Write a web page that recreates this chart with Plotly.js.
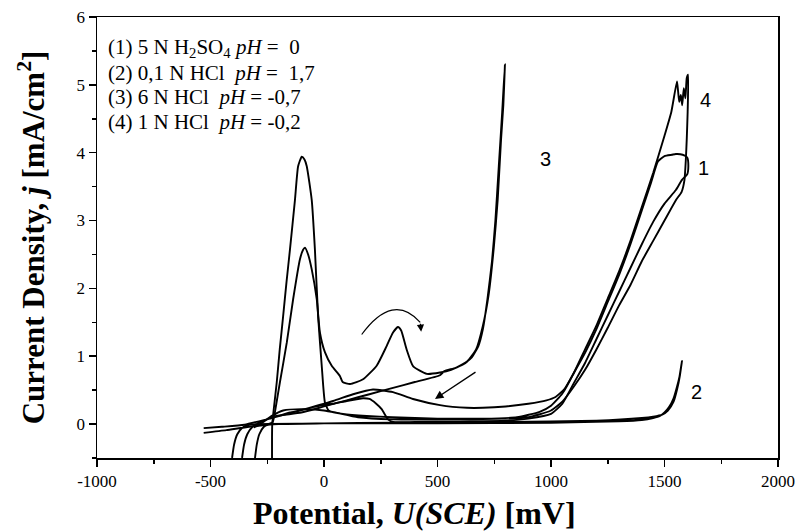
<!DOCTYPE html>
<html>
<head>
<meta charset="utf-8">
<script src="https://cdn.plot.ly/plotly-3.0.1.min.js"></script>
<style>
html,body{margin:0;padding:0;background:#fff;}
#chart{width:801px;height:532px;}
</style>
</head>
<body>
<div id="chart"></div>
<script>
// Potential (mV) and current density (mA/cm2)
// (1) 5 N H2SO4
const curve1X = [-361,-352,-338,-315,-285,-252,-200,-150,-106,-50,0,40,100,150,172,200,230,254,282,304,400,600,800,900,1000,1050,1100,1150,1200,1250,1300,1350,1400,1450,1500,1550,1577,1600,1605,1600,1580,1550,1533,1500,1471,1440,1400,1350,1300,1250,1200,1150,1100,1060,1020,980,900,800,700,630,511,392,304,216,128,40,-106,-252,-350,-450,-530];
const curve1Y = [-0.5,-0.3,-0.15,-0.04,0.02,0.07,0.12,0.17,0.2,0.25,0.28,0.3,0.34,0.37,0.38,0.37,0.3,0.22,0.07,0.03,0.03,0.04,0.05,0.08,0.15,0.3,0.6,0.9,1.25,1.6,1.95,2.3,2.65,2.98,3.25,3.45,3.6,3.68,3.8,3.93,3.97,3.98,3.97,3.95,3.87,3.55,3.15,2.65,2.2,1.8,1.4,1.05,0.75,0.52,0.4,0.35,0.3,0.26,0.24,0.24,0.28,0.37,0.47,0.51,0.44,0.34,0.2,0.07,-0.01,-0.04,-0.06];
// (2) 0,1 N HCl
const curve2X = [-405,-396,-382,-362,-332,-300,0,500,1000,1300,1400,1450,1480,1500,1520,1540,1555,1566,1577,1568,1556,1540,1515,1490,1450,1400,1200,800,300,0,-200,-330,-430,-530];
const curve2Y = [-0.5,-0.3,-0.15,-0.06,-0.01,0.0,0.01,0.01,0.02,0.04,0.06,0.09,0.12,0.17,0.25,0.38,0.55,0.7,0.93,0.72,0.52,0.33,0.2,0.14,0.11,0.09,0.05,0.03,0.02,0.01,0.0,-0.04,-0.09,-0.13];
// (3) 6 N HCl
const curve3X = [-304,-296,-285,-265,-245,-226,-210,-194,-164,-136,-106,-92,-84,-70,-54,-32,-18,4,34,70,82,115,172,232,276,304,326,340,364,393,453,511,560,610,650,680,700,720,740,755,770,785,797,790,780,765,748,725,700,670,630,580,530,511,400,300,200,100,0,-100,-208,-240];
const curve3Y = [-0.5,-0.3,-0.15,-0.04,0.0,0.03,0.3,0.62,1.2,1.84,2.43,2.57,2.6,2.5,2.28,1.84,1.35,1.06,0.86,0.71,0.62,0.59,0.66,0.86,1.15,1.35,1.43,1.38,1.1,0.85,0.74,0.76,0.8,0.88,0.98,1.15,1.4,1.84,2.4,3.0,3.8,4.6,5.3,4.7,4.2,3.3,2.6,1.9,1.45,1.1,0.92,0.83,0.78,0.72,0.62,0.53,0.44,0.35,0.26,0.17,0.12,0.08];
// (4) 1 N HCl
const curve4X = [-229,-229,-228,-222,-208,-195,-180,-165,-150,-128,-114,-98,-86,-76,-54,-40,-26,-10,4,20,34,84,188,300,500,700,850,950,1000,1050,1100,1150,1200,1250,1300,1350,1400,1450,1500,1530,1555,1560,1565,1572,1578,1585,1592,1598,1604,1602,1598,1594,1588,1575,1550,1500,1450,1400,1350,1300,1250,1200,1150,1100,1050,1000,900,800,600,300,150,50,0,-100,-180,-230,-280,-310];
const curve4Y = [-0.5,-0.2,0.0,0.2,0.62,1.1,1.59,2.1,2.57,3.3,3.8,3.94,3.9,3.8,3.3,2.57,1.59,0.86,0.32,0.2,0.18,0.15,0.12,0.1,0.08,0.08,0.1,0.18,0.27,0.45,0.75,1.1,1.45,1.85,2.25,2.7,3.2,3.7,4.25,4.6,5.05,4.9,4.75,4.85,4.7,4.95,4.8,5.1,5.15,4.6,4.2,3.9,3.6,3.42,3.3,3.0,2.7,2.4,2.05,1.75,1.42,1.1,0.8,0.55,0.33,0.2,0.1,0.08,0.07,0.07,0.1,0.17,0.2,0.22,0.2,0.12,0.0,-0.05];

const xTickVals = [-1000,-500,0,500,1000,1500,2000];
const xTickText = ['-1000','-500','0','500','1000','1500','2000'];
const yTickVals = [0,1,2,3,4,5,6];
const yTickText = ['0','1','2','3','4','5','6'];

const legendLines = [
  '(1) 5 N H<sub>2</sub>SO<sub>4</sub> <i>pH</i> =  0',
  '(2) 0,1 N HCl  <i>pH</i> =  1,7',
  '(3) 6 N HCl  <i>pH</i> = -0,7',
  '(4) 1 N HCl  <i>pH</i> = -0,2'
];
const curveLabels = ['1','2','3','4'];
const curveLabelX = [1670,1643,974,1680];
const curveLabelY = [3.78,0.47,3.9,4.78];
const xTitle = '<b>Potential, <i>U(SCE)</i> [mV]</b>';
const yTitle = '<b>Current Density, <i>j</i> [mA/cm<sup>2</sup>]</b>';

const serif = 'Liberation Serif, Times New Roman, serif';
const lineStyle = {color:'#000', width:1.9, shape:'spline', smoothing:0.5};
const series = [[curve1X,curve1Y],[curve2X,curve2Y],[curve3X,curve3Y],[curve4X,curve4Y]];
const data = series.map(s => ({x:s[0], y:s[1], type:'scatter', mode:'lines', line:lineStyle, hoverinfo:'skip'}));

const annotations = [];
legendLines.forEach((t,i) => {
  annotations.push({xref:'paper', yref:'paper', x:0.013, y:0.93 - i*0.056, xanchor:'left', yanchor:'middle',
    text:t, showarrow:false, font:{family:serif, size:21, color:'#000'}});
});
curveLabels.forEach((t,i) => {
  annotations.push({xref:'x', yref:'y', x:curveLabelX[i], y:curveLabelY[i], text:t, showarrow:false,
    font:{family:'Liberation Sans, Arial, sans-serif', size:20, color:'#000'}});
});
// x-axis title placed as annotation (slightly left of centre as in the original)
annotations.push({xref:'paper', yref:'paper', x:0.4655, y:-0.125, xanchor:'center', yanchor:'middle',
  text:xTitle, showarrow:false, font:{family:serif, size:32, color:'#000'}});
// arrows
annotations.push({xref:'x', yref:'y', axref:'x', ayref:'y', x:489, y:0.37, ax:674, ay:0.78,
  showarrow:true, arrowhead:2, arrowsize:1.2, arrowwidth:1.4, arrowcolor:'#000', text:''});
annotations.push({xref:'x', yref:'y', axref:'x', ayref:'y', x:428, y:1.36, ax:424, ay:1.5,
  showarrow:true, arrowhead:2, arrowsize:1.2, arrowwidth:1.2, arrowcolor:'#000', text:''});

const layout = {
  width:801, height:532,
  margin:{l:97, r:23, t:17, b:74},
  paper_bgcolor:'#fff', plot_bgcolor:'#fff',
  showlegend:false,
  font:{family:serif, color:'#000'},
  xaxis:{range:[-1000,2000], tickvals:xTickVals, ticktext:xTickText, ticks:'outside', ticklen:7, tickwidth:1.5, tickcolor:'#000',
    minor:{dtick:250, tick0:0, ticks:'outside', ticklen:4, tickwidth:1.5, tickcolor:'#000'},
    showline:true, mirror:true, linecolor:'#000', linewidth:1.5, showgrid:false, zeroline:false,
    tickfont:{family:serif, size:17, color:'#000'}},
  yaxis:{range:[-0.5,6], tickvals:yTickVals, ticktext:yTickText, ticks:'outside', ticklen:7, tickwidth:1.5, tickcolor:'#000',
    minor:{dtick:0.5, tick0:0, ticks:'outside', ticklen:4, tickwidth:1.5, tickcolor:'#000'},
    showline:true, mirror:true, linecolor:'#000', linewidth:1.5, showgrid:false, zeroline:false,
    tickfont:{family:serif, size:17, color:'#000'},
    title:{text:yTitle, font:{family:serif, size:31, color:'#000'}, standoff:22}},
  shapes:[
    {type:'path', xref:'x', yref:'y', path:'M 166,1.32 Q 304,1.95 424,1.5', line:{color:'#000', width:1.2}}
  ],
  annotations:annotations
};
Plotly.newPlot('chart', data, layout, {displayModeBar:false, staticPlot:true});
</script>
</body>
</html>
